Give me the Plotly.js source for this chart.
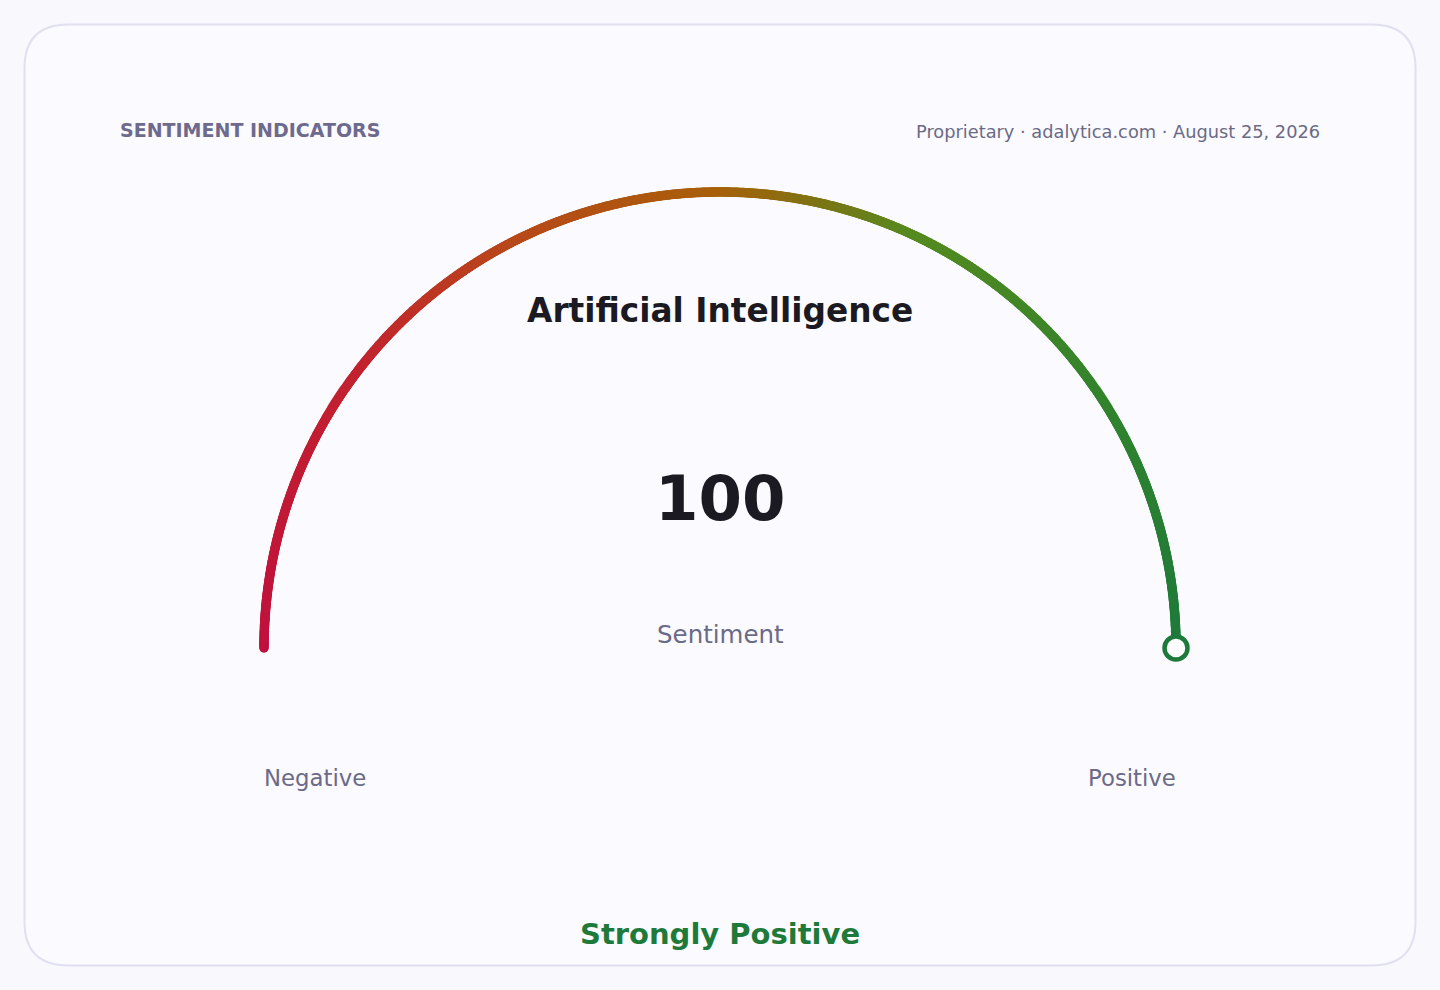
<!DOCTYPE html>
<html>
<head>
<meta charset="utf-8">
<script src="https://cdn.plot.ly/plotly-3.0.1.min.js"></script>
<style>
html,body{margin:0;padding:0;background:#f8f8fd;}
#chart{width:1440px;height:990px;}
</style>
</head>
<body>
<div id="chart"></div>
<script>
// ---- data ----
const indicatorName = "Artificial Intelligence";
const sentimentValue = [100];
const scaleRange = [-100, 100];
const endLabels = ["Negative", "Positive"];
const verdict = "Strongly Positive";
const headerLeft = "SENTIMENT INDICATORS";
const headerRight = "Proprietary · adalytica.com · August 25, 2026";
const valueLabel = "Sentiment";

// ---- geometry / style ----
const W = 1440, H = 990;
const cx = 720, cy = 648, R = 456;
const gradient = [
  [0.0, "#c0103e"],
  [0.22, "#c2242e"],
  [0.35, "#b8481a"],
  [0.5, "#a8600a"],
  [0.57, "#7e7414"],
  [0.64, "#558a20"],
  [0.8, "#35842c"],
  [1.0, "#1e7a3a"]
];
const FONT = "DejaVu Sans, Verdana, sans-serif";

function angleOf(v){
  const f = (v - scaleRange[0])/(scaleRange[1]-scaleRange[0]);
  return Math.PI*(1-f);
}
const N = 1200;
const ax = [], ay = [], ac = [];
for(let i=0;i<=N;i++){
  const f = i/N;
  const a = Math.PI*(1-f);
  ax.push(cx + R*Math.cos(a));
  ay.push(cy - R*Math.sin(a));
  ac.push(f);
}
const arc = {
  type:"scatter", mode:"markers", x:ax, y:ay, hoverinfo:"skip",
  marker:{size:9.5, color:ac, colorscale:gradient, cmin:0, cmax:1, showscale:false, line:{width:0}}
};
const va = angleOf(sentimentValue[0]);
const needle = {
  type:"scatter", mode:"markers", x:[cx + R*Math.cos(va)], y:[cy - R*Math.sin(va)], hoverinfo:"skip",
  marker:{size:23, color:"#ffffff", line:{width:4.5, color:"#1e7a3a"}}
};

const cardPath = (x0,y0,x1,y1,r)=>`M ${x0+r},${y0} L ${x1-r},${y0} Q ${x1},${y0} ${x1},${y0+r} L ${x1},${y1-r} Q ${x1},${y1} ${x1-r},${y1} L ${x0+r},${y1} Q ${x0},${y1} ${x0},${y1-r} L ${x0},${y0+r} Q ${x0},${y0} ${x0+r},${y0} Z`;

const ann = (text,x,y,size,color,opts={})=>Object.assign({
  text, x, y, xref:"x", yref:"y", showarrow:false, xanchor:"center", yanchor:"middle",
  font:{family:FONT, size, color}
}, opts);

const layout = {
  width:W, height:H, margin:{l:0,r:0,t:0,b:0},
  paper_bgcolor:"#f8f8fd", plot_bgcolor:"rgba(0,0,0,0)",
  showlegend:false,
  xaxis:{range:[0,W], visible:false, fixedrange:true},
  yaxis:{range:[H,0], visible:false, fixedrange:true},
  shapes:[{type:"path", path:cardPath(24.5,24.5,1415.5,965.5,44), xref:"x", yref:"y",
    fillcolor:"#fafaff", line:{color:"#e1e0f0", width:2}, layer:"below"}],
  annotations:[
    ann("<b>"+headerLeft+"</b>",118,130,19,"#6e6a8e",{xanchor:"left"}),
    ann(headerRight,1322,131,17.8,"#6b6a85",{xanchor:"right"}),
    ann("<b>"+indicatorName+"</b>",720,310.5,32.8,"#1b1a22"),
    ann("<b>"+sentimentValue[0]+"</b>",720,498.5,62.5,"#1b1a22"),
    ann(valueLabel,720,634,24.5,"#6b6a88"),
    ann(endLabels[0],cx-R-2,778,22.8,"#6b6a88",{xanchor:"left"}),
    ann(endLabels[1],cx+R+2,778,22.8,"#6b6a88",{xanchor:"right"}),
    ann("<b>"+verdict+"</b>",720,934,29,"#1e7a3a")
  ]
};
Plotly.newPlot("chart",[arc,needle],layout,{displayModeBar:false,staticPlot:true});
</script>
</body>
</html>
